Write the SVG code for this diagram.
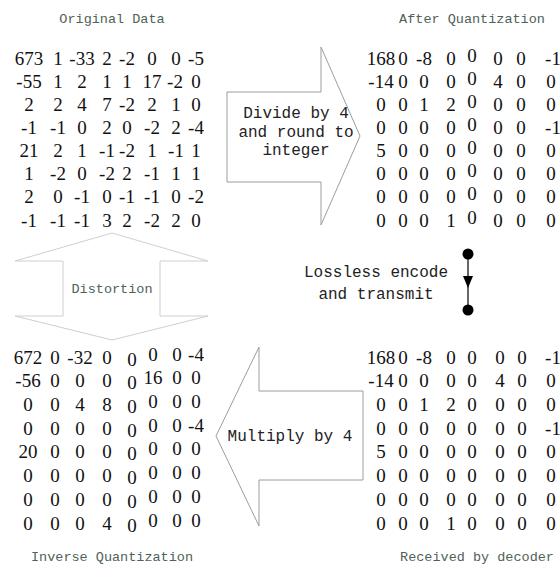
<svg xmlns="http://www.w3.org/2000/svg" width="560" height="565" viewBox="0 0 560 565">
<defs>
<style>
.title{font-family:"Liberation Mono","DejaVu Sans Mono",monospace;font-size:13.5px;fill:#4e6256;text-anchor:middle}
.num{font-family:"Liberation Serif","Times New Roman",serif;font-size:19px;fill:#111;text-anchor:middle}
.lbl{font-family:"Liberation Mono","DejaVu Sans Mono",monospace;font-size:16px;fill:#222;text-anchor:middle}
.arrow{fill:#fff;stroke:#9c9c9c;stroke-width:1}
.arrow-light{fill:#fff;stroke:#cfcfcf;stroke-width:1}
.conn{stroke:#000;stroke-width:1.2;fill:none}
</style>
</defs>
<rect width="560" height="565" fill="#fff"/>

<g id="original-data">
<text class="title" x="112" y="23">Original Data</text>
<g class="num">
<text y="64.5"><tspan x="29">673</tspan><tspan x="58">1</tspan><tspan x="82">-33</tspan><tspan x="107">2</tspan><tspan x="127">-2</tspan><tspan x="152">0</tspan><tspan x="176">0</tspan><tspan x="196">-5</tspan></text>
<text y="87.7"><tspan x="29">-55</tspan><tspan x="58">1</tspan><tspan x="82">2</tspan><tspan x="107">1</tspan><tspan x="127">1</tspan><tspan x="152">17</tspan><tspan x="175">-2</tspan><tspan x="196">0</tspan></text>
<text y="110.8"><tspan x="29">2</tspan><tspan x="58">2</tspan><tspan x="82">4</tspan><tspan x="107">7</tspan><tspan x="127">-2</tspan><tspan x="152">2</tspan><tspan x="176">1</tspan><tspan x="196">0</tspan></text>
<text y="134"><tspan x="29">-1</tspan><tspan x="58">-1</tspan><tspan x="82">0</tspan><tspan x="107">2</tspan><tspan x="127">0</tspan><tspan x="152">-2</tspan><tspan x="176">2</tspan><tspan x="196">-4</tspan></text>
<text y="157.1"><tspan x="29">21</tspan><tspan x="58">2</tspan><tspan x="82">1</tspan><tspan x="107">-1</tspan><tspan x="127">-2</tspan><tspan x="152">1</tspan><tspan x="176">-1</tspan><tspan x="196">1</tspan></text>
<text y="180.3"><tspan x="29">1</tspan><tspan x="58">-2</tspan><tspan x="82">0</tspan><tspan x="107">-2</tspan><tspan x="127">2</tspan><tspan x="152">-1</tspan><tspan x="176">1</tspan><tspan x="196">1</tspan></text>
<text y="203.4"><tspan x="29">2</tspan><tspan x="58">0</tspan><tspan x="82">-1</tspan><tspan x="107">0</tspan><tspan x="127">-1</tspan><tspan x="152">-1</tspan><tspan x="176">0</tspan><tspan x="196">-2</tspan></text>
<text y="226.5"><tspan x="29">-1</tspan><tspan x="58">-1</tspan><tspan x="82">-1</tspan><tspan x="107">3</tspan><tspan x="127">2</tspan><tspan x="152">-2</tspan><tspan x="176">2</tspan><tspan x="196">0</tspan></text>
</g>
</g>

<g id="after-quantization">
<text class="title" x="472" y="23">After Quantization</text>
<g class="num">
<text y="64.5"><tspan x="381">168</tspan><tspan x="403">0</tspan><tspan x="424">-8</tspan><tspan x="451">0</tspan><tspan x="472" dy="-3">0</tspan><tspan x="498" dy="3">0</tspan><tspan x="521">0</tspan><tspan x="553">-1</tspan></text>
<text y="87.7"><tspan x="381">-14</tspan><tspan x="403">0</tspan><tspan x="424">0</tspan><tspan x="451">0</tspan><tspan x="472" dy="-3">0</tspan><tspan x="498" dy="3">4</tspan><tspan x="521">0</tspan><tspan x="551">0</tspan></text>
<text y="110.8"><tspan x="381">0</tspan><tspan x="403">0</tspan><tspan x="424">1</tspan><tspan x="451">2</tspan><tspan x="472" dy="-3">0</tspan><tspan x="498" dy="3">0</tspan><tspan x="521">0</tspan><tspan x="551">0</tspan></text>
<text y="134"><tspan x="381">0</tspan><tspan x="403">0</tspan><tspan x="424">0</tspan><tspan x="451">0</tspan><tspan x="472" dy="-3">0</tspan><tspan x="498" dy="3">0</tspan><tspan x="521">0</tspan><tspan x="553">-1</tspan></text>
<text y="157.1"><tspan x="381">5</tspan><tspan x="403">0</tspan><tspan x="424">0</tspan><tspan x="451">0</tspan><tspan x="472" dy="-3">0</tspan><tspan x="498" dy="3">0</tspan><tspan x="521">0</tspan><tspan x="551">0</tspan></text>
<text y="180.3"><tspan x="381">0</tspan><tspan x="403">0</tspan><tspan x="424">0</tspan><tspan x="451">0</tspan><tspan x="472" dy="-3">0</tspan><tspan x="498" dy="3">0</tspan><tspan x="521">0</tspan><tspan x="551">0</tspan></text>
<text y="203.4"><tspan x="381">0</tspan><tspan x="403">0</tspan><tspan x="424">0</tspan><tspan x="451">0</tspan><tspan x="472" dy="-3">0</tspan><tspan x="498" dy="3">0</tspan><tspan x="521">0</tspan><tspan x="551">0</tspan></text>
<text y="226.5"><tspan x="381">0</tspan><tspan x="403">0</tspan><tspan x="424">0</tspan><tspan x="451">1</tspan><tspan x="472" dy="-3">0</tspan><tspan x="498" dy="3">0</tspan><tspan x="521">0</tspan><tspan x="551">0</tspan></text>
</g>
</g>

<g id="inverse-quantization">
<text class="title" x="112" y="561">Inverse Quantization</text>
<g class="num">
<text y="363.5"><tspan x="28">672</tspan><tspan x="55">0</tspan><tspan x="80">-32</tspan><tspan x="107">0</tspan><tspan x="132" dy="2">0</tspan><tspan x="153" dy="-5">0</tspan><tspan x="177">0</tspan><tspan x="196">-4</tspan></text>
<text y="387.2"><tspan x="28">-56</tspan><tspan x="55">0</tspan><tspan x="80">0</tspan><tspan x="107">0</tspan><tspan x="132" dy="2">0</tspan><tspan x="153" dy="-5">16</tspan><tspan x="177">0</tspan><tspan x="196">0</tspan></text>
<text y="410.9"><tspan x="28">0</tspan><tspan x="55">0</tspan><tspan x="80">4</tspan><tspan x="107">8</tspan><tspan x="132" dy="2">0</tspan><tspan x="153" dy="-5">0</tspan><tspan x="177">0</tspan><tspan x="196">0</tspan></text>
<text y="434.6"><tspan x="28">0</tspan><tspan x="55">0</tspan><tspan x="80">0</tspan><tspan x="107">0</tspan><tspan x="132" dy="2">0</tspan><tspan x="153" dy="-5">0</tspan><tspan x="177">0</tspan><tspan x="196">-4</tspan></text>
<text y="458.3"><tspan x="28">20</tspan><tspan x="55">0</tspan><tspan x="80">0</tspan><tspan x="107">0</tspan><tspan x="132" dy="2">0</tspan><tspan x="153" dy="-5">0</tspan><tspan x="177">0</tspan><tspan x="196">0</tspan></text>
<text y="482"><tspan x="28">0</tspan><tspan x="55">0</tspan><tspan x="80">0</tspan><tspan x="107">0</tspan><tspan x="132" dy="2">0</tspan><tspan x="153" dy="-5">0</tspan><tspan x="177">0</tspan><tspan x="196">0</tspan></text>
<text y="505.7"><tspan x="28">0</tspan><tspan x="55">0</tspan><tspan x="80">0</tspan><tspan x="107">0</tspan><tspan x="132" dy="2">0</tspan><tspan x="153" dy="-5">0</tspan><tspan x="177">0</tspan><tspan x="196">0</tspan></text>
<text y="529.5"><tspan x="28">0</tspan><tspan x="55">0</tspan><tspan x="80">0</tspan><tspan x="107">4</tspan><tspan x="132" dy="2">0</tspan><tspan x="153" dy="-5">0</tspan><tspan x="177">0</tspan><tspan x="196">0</tspan></text>
</g>
</g>

<g id="received-by-decoder">
<text class="title" x="477" y="561">Received by decoder</text>
<g class="num">
<text y="363.5"><tspan x="381">168</tspan><tspan x="403">0</tspan><tspan x="424">-8</tspan><tspan x="451">0</tspan><tspan x="472">0</tspan><tspan x="500">0</tspan><tspan x="522">0</tspan><tspan x="553">-1</tspan></text>
<text y="387.2"><tspan x="381">-14</tspan><tspan x="403">0</tspan><tspan x="424">0</tspan><tspan x="451">0</tspan><tspan x="472">0</tspan><tspan x="500">4</tspan><tspan x="522">0</tspan><tspan x="551">0</tspan></text>
<text y="410.9"><tspan x="381">0</tspan><tspan x="403">0</tspan><tspan x="424">1</tspan><tspan x="451">2</tspan><tspan x="472">0</tspan><tspan x="500">0</tspan><tspan x="522">0</tspan><tspan x="551">0</tspan></text>
<text y="434.6"><tspan x="381">0</tspan><tspan x="403">0</tspan><tspan x="424">0</tspan><tspan x="451">0</tspan><tspan x="472">0</tspan><tspan x="500">0</tspan><tspan x="522">0</tspan><tspan x="553">-1</tspan></text>
<text y="458.3"><tspan x="381">5</tspan><tspan x="403">0</tspan><tspan x="424">0</tspan><tspan x="451">0</tspan><tspan x="472">0</tspan><tspan x="500">0</tspan><tspan x="522">0</tspan><tspan x="551">0</tspan></text>
<text y="482"><tspan x="381">0</tspan><tspan x="403">0</tspan><tspan x="424">0</tspan><tspan x="451">0</tspan><tspan x="472">0</tspan><tspan x="500">0</tspan><tspan x="522">0</tspan><tspan x="551">0</tspan></text>
<text y="505.7"><tspan x="381">0</tspan><tspan x="403">0</tspan><tspan x="424">0</tspan><tspan x="451">0</tspan><tspan x="472">0</tspan><tspan x="500">0</tspan><tspan x="522">0</tspan><tspan x="551">0</tspan></text>
<text y="529.5"><tspan x="381">0</tspan><tspan x="403">0</tspan><tspan x="424">0</tspan><tspan x="451">1</tspan><tspan x="472">0</tspan><tspan x="500">0</tspan><tspan x="522">0</tspan><tspan x="551">0</tspan></text>
</g>
</g>

<g id="divide-arrow">
<path class="arrow" d="M227,92 H321 V47 L360,136 L321,225 V182 H227 Z"/>
<text class="lbl" x="296" y="118">Divide by 4</text>
<text class="lbl" x="296" y="137">and round to</text>
<text class="lbl" x="296" y="155">integer</text>
</g>

<g id="multiply-arrow">
<path class="arrow" d="M363,391 H259 V347 L216,436 L259,526 V480 H363 Z"/>
<text class="lbl" x="290" y="441">Multiply by 4</text>
</g>

<g id="distortion-arrow">
<path class="arrow-light" d="M112,233 L208,261 H160 V316 H208 L112,340 L15,316 H63 V261 H15 Z"/>
<text class="title" x="112" y="293">Distortion</text>
</g>

<g id="lossless-label">
<text class="lbl" x="376" y="277">Lossless encode</text>
<text class="lbl" x="376" y="299">and transmit</text>
</g>

<g id="connectors">
<line class="conn" x1="468" y1="254" x2="468" y2="310"/>
<circle cx="468" cy="254" r="5.5" fill="#000"/>
<circle cx="468" cy="310" r="5.5" fill="#000"/>
<path d="M463,276 H473 L468,288 Z" fill="#000"/>
</g>
</svg>
